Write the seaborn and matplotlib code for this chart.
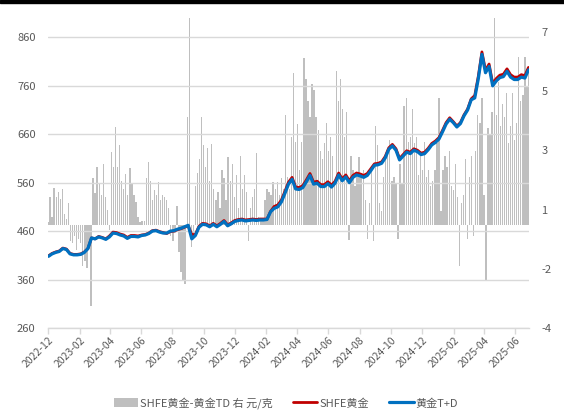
import numpy as np
import pandas as pd
import matplotlib
matplotlib.use('Agg')
import matplotlib.pyplot as plt
import matplotlib.dates as mdates
from matplotlib.patches import Patch, Rectangle
from matplotlib.lines import Line2D
import seaborn as sns

sns.set_theme(style='white')
plt.rcParams['font.family'] = ['Noto Sans CJK SC', 'DejaVu Sans']
plt.rcParams['axes.unicode_minus'] = False

# ---------------- data ----------------
line_start = '2022-12-02'   # weekly observations
td = [408,413,416,418,424,422,413,411,411,412,
      416,424,446,444,448,446,443,448,456,455,
      452,450,445,449,449,448,451,452,455,460,
      461,458,456,456,460,461,464,466,469,472,
      444,451,468,474,473,469,474,469,474,480,
      471,475,480,482,483,481,482,483,482,483,
      483,484,500,507,510,520,538,557,567,547,
      546,550,562,575,557,559,552,552,558,551,
      559,576,564,572,560,571,576,574,571,575,
      585,596,597,600,611,629,636,627,607,615,
      623,620,627,624,618,620,628,638,643,650,
      665,681,691,684,675,682,698,710,731,735,
      775,825,787,800,760,770,777,779,790,778,
      773,773,778,776,793]
shfe = [409,414,417,419,425,423,414,412,412,413,417,
        424,446,444,449,447,444,
        450,458,457,454,452,447,451,451,450,
        452,453,456,461,462,459,457,
        455,459,460,463,465,468,471,
        453,
        453,470,476,475,471,476,471,476,482,473,477,482,484,485,483,484,485,484,485,485,
        485,501,
        511,514,524,542,561,571,551,550,554,566,579,561,563,556,556,562,555,563,580,568,
        576,564,575,580,578,575,579,589,
        599,600,603,614,632,639,630,610,618,
        626,623,630,627,621,623,631,641,646,653,668,684,694,
        686,677,684,700,712,733,
        740,780,830,792,805,765,775,782,784,795,783,778,778,783,781,798]

bar_start = '2022-12-01'    # every 4 days
spread = [0.1,1.0,0.3,1.35,1.0,1.2,0.95,1.3,0.4,0.2,
          0.8,-0.6,-0.65,-0.4,-0.9,-0.5,-0.65,-1.5,-1.3,-1.55,
          -0.7,-2.95,1.7,1.15,2.1,1.5,1.1,2.2,1.0,0.55,
          -0.2,2.65,2.1,3.55,2.1,2.9,1.6,1.3,1.85,1.1,
          2.05,1.5,1.1,0.85,0.3,0.1,0.15,0.15,1.7,2.3,
          1.6,0.9,1.25,1.1,1.55,0.9,1.1,
          1.0,0.9,0.6,-0.4,-0.6,-0.3,0.7,-1.0,-1.7,-2.0,
          -2.15,3.9,7.6,-0.8,-0.3,1.4,1.9,2.4,3.9,2.9,
          2.1,2.8,1.6,2.95,1.3,0.9,1.2,0.6,2.0,1.7,
          0.9,2.45,1.6,2.2,1.0,1.8,0.6,2.5,1.3,1.8,
          1.2,-0.6,0.6,1.0,1.3,2.6,0.3,0.2,0.15,0.9,
          1.3,1.2,1.1,1.55,1.3,1.55,1.1,1.7,1.3,
          4.0,1.75,1.3,3.2,5.5,3.0,3.65,2.0,3.0,6.05,
          5.3,4.5,3.9,5.1,4.9,3.9,3.45,2.7,2.4,2.96,
          3.7,2.7,3.2,2.5,1.5,5.6,4.5,5.3,4.2,3.2,
          4.1,-0.54,2.5,2.0,1.4,1.75,2.45,1.75,2.0,0.9,
          -0.5,0.8,2.0,-0.6,3.6,2.9,0.8,0.5,1.75,2.6,
          2.5,3.1,1.6,1.75,1.5,-0.5,2.2,1.5,4.3,
          4.6,3.0,3.2,4.2,2.96,3.2,1.8,2.5,2.0,3.0,
          1.75,2.0,1.4,1.6,2.0,2.96,4.6,0.5,2.0,2.5,
          2.1,2.7,1.4,1.25,2.2,1.0,-1.5,0.8,1.1,2.4,
          -0.5,1.75,2.5,-0.4,2.7,4.0,3.7,4.6,1.1,-2.0,
          3.5,3.3,4.1,7.6,4.0,5.2,3.6,4.4,3.9,4.8,
          2.96,3.6,4.8,3.1,3.7,6.1,4.5,4.7,6.1,5.0,
          5.6]

left_ticks = [260, 360, 460, 560, 660, 760, 860]
right_labels = ['-4', '-2', '1', '3', '5', '7']
legend_labels = ['SHFE黄金-黄金TD 右 元/克', 'SHFE黄金', '黄金T+D']

# ---------------- frames ----------------
line_dates = pd.date_range(line_start, periods=len(td), freq='7D')
bar_dates = pd.date_range(bar_start, periods=len(spread), freq='4D')
df = pd.DataFrame({'date': line_dates, 'shfe': shfe, 'td': td})

# ---------------- figure ----------------
fig = plt.figure(figsize=(5.64, 4.2), dpi=100)
fig.patches.append(Rectangle((0, 1 - 2.5 / 420), 1, 2.5 / 420,
                             transform=fig.transFigure, color='black', zorder=10))
ax = fig.add_axes([48 / 564, 92 / 420, 481 / 564, 310 / 420])
ax2 = ax.twinx()

GRAY = '#BFBFBF'
RED = '#C00000'
BLUE = '#0070C0'
TXT = '#595959'
GRID = '#D9D9D9'

ax2.bar(bar_dates, spread, width=2.6, color=GRAY, linewidth=0)
ax2.set_ylim(-3.74, 7.51)
ax2.set_yticks(np.linspace(-3.74, 7, 6))
ax2.set_yticklabels(right_labels)

ax.set_zorder(ax2.get_zorder() + 1)
ax.patch.set_visible(False)

sns.lineplot(data=df, x='date', y='shfe', ax=ax, color=RED, lw=2.0)
sns.lineplot(data=df, x='date', y='td', ax=ax, color=BLUE, lw=2.3)

ax.set_ylim(260, 900)
ax.set_yticks(left_ticks)
ax.set_xlim(pd.Timestamp('2022-12-01'), pd.Timestamp('2025-06-28'))
ax.xaxis.set_major_locator(mdates.MonthLocator(bymonth=[2, 4, 6, 8, 10, 12]))
ax.xaxis.set_major_formatter(mdates.DateFormatter('%Y-%m'))
ax.set_xlabel('')
ax.set_ylabel('')
ax2.set_ylabel('')

ax.set_axisbelow(True)
ax.yaxis.grid(True, color=GRID, lw=1)
ax.xaxis.grid(False)
ax2.grid(False)

for s in ['top', 'left', 'right']:
    ax.spines[s].set_visible(False)
for s in ax2.spines.values():
    s.set_visible(False)
ax.spines['bottom'].set_color(GRID)
ax.spines['bottom'].set_linewidth(1)

ax.tick_params(axis='x', length=4, width=1, color=GRID, labelsize=7.5,
               labelcolor=TXT, pad=1, bottom=True)
ax.tick_params(axis='y', length=0, labelsize=8, labelcolor=TXT, pad=9)
ax2.tick_params(axis='y', length=0, labelsize=8, labelcolor=TXT, pad=9)
plt.setp(ax.get_xticklabels(), rotation=45, ha='right', rotation_mode='anchor')

handles = [Patch(facecolor=GRAY, edgecolor='none'),
           Line2D([], [], color=RED, lw=2),
           Line2D([], [], color=BLUE, lw=2.3)]
fig.legend(handles, legend_labels, loc='center', bbox_to_anchor=(0.507, 0.04),
           ncol=3, frameon=False, fontsize=8, handlelength=2.2, handleheight=0.9,
           columnspacing=1.8, handletextpad=0.2, labelcolor=TXT)

fig.savefig('out.png', dpi=100)
